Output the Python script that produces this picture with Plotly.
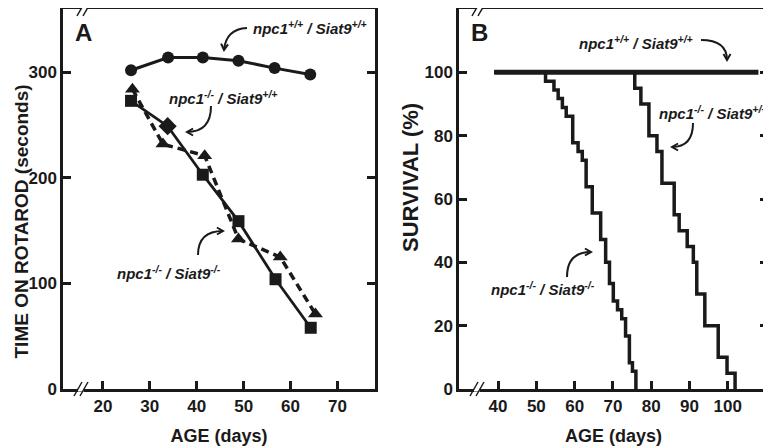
import math
import plotly.graph_objects as go

# ---------------- data ----------------
# Panel A: rotarod
age_wt_rot = [26.0, 33.9, 41.3, 48.9, 56.6, 64.2]
rot_wt = [302, 314, 314, 311, 304, 298]
age_sq_rot = [26.0, 33.8, 41.3, 48.9, 56.8, 64.3]
rot_sq = [273, 249, 203, 159, 104, 58]
sym_sq = ["square", "diamond", "square", "square", "square", "square"]
age_tri_rot = [26.3, 32.8, 41.7, 48.9, 57.8, 65.3]
rot_tri = [284, 232, 221, 142, 125, 71]

# Panel B: survival (Kaplan-Meier steps)
age_wt_surv = [39, 108]
surv_wt = [100, 100]
age_dko = [39, 52.4, 54.6, 55.7, 56.8, 57.8, 59.5, 60.9, 62.0, 63.0, 64.6, 66.8,
           68.1, 69.1, 70.1, 71.2, 72.3, 73.3, 74.3, 75.1, 76.0]
surv_dko = [100, 97.2, 94.4, 91.7, 88.9, 86.1, 77.8, 75.0, 72.2, 63.9, 55.6, 47.2,
            40.0, 33.3, 27.8, 25.0, 22.2, 16.7, 8.3, 5.6, 0]
age_sko = [39, 75.7, 77.3, 79.4, 81.5, 82.8, 86.0, 87.3, 89.4, 91.0, 91.9, 94.0,
           97.5, 99.8, 101.9]
surv_sko = [100, 95, 90, 80, 75, 65, 55, 50, 45, 40, 30, 20, 10, 5, 0]

xticks_a = [20, 30, 40, 50, 60, 70]
yticks_a = [0, 100, 200, 300]
xticks_b = [40, 50, 60, 70, 80, 90, 100]
yticks_b = [0, 20, 40, 60, 80, 100]

# ---------------- layout constants ----------------
OX, OY = 8, 8            # page body margin offset
W, H = 771 - OX, 446 - OY
L, R, T = 63 - OX, 3, 9 - OY
B = H - (389 - OY)
PW, PH = W - L - R, H - T - B
FONT = "Liberation Sans, Arial, sans-serif"
INK = "#1a1a1a"


def px(x, y):
    """reference-page pixel -> paper coords"""
    return (x - OX - L) / PW, (H - B - (y - OY)) / PH


fig = go.Figure()

# Panel A traces
fig.add_trace(go.Scatter(x=age_tri_rot, y=rot_tri, mode="lines+markers",
                         line=dict(color=INK, width=3.5, dash="8px,5px"),
                         marker=dict(symbol="triangle-up", size=13, color=INK, opacity=1),
                         xaxis="x", yaxis="y", showlegend=False))
fig.add_trace(go.Scatter(x=age_sq_rot, y=rot_sq, mode="lines+markers",
                         line=dict(color=INK, width=2.8),
                         marker=dict(symbol=sym_sq, size=[12, 14, 12, 12, 12, 12], color=INK,
                                     opacity=1, line=dict(width=0)),
                         xaxis="x", yaxis="y", showlegend=False))
fig.add_trace(go.Scatter(x=age_wt_rot, y=rot_wt, mode="lines+markers",
                         line=dict(color=INK, width=3),
                         marker=dict(symbol="circle", size=12, color=INK, opacity=1),
                         xaxis="x", yaxis="y", showlegend=False))

# Panel B traces
fig.add_trace(go.Scatter(x=age_dko, y=surv_dko, mode="lines", line_shape="hv",
                         line=dict(color=INK, width=3.5),
                         xaxis="x2", yaxis="y2", showlegend=False))
fig.add_trace(go.Scatter(x=age_sko, y=surv_sko, mode="lines", line_shape="hv",
                         line=dict(color=INK, width=3.5),
                         xaxis="x2", yaxis="y2", showlegend=False))
fig.add_trace(go.Scatter(x=age_wt_surv, y=surv_wt, mode="lines",
                         line=dict(color=INK, width=5),
                         xaxis="x2", yaxis="y2", showlegend=False))

tickfont = dict(family=FONT, size=17, color=INK, weight="bold")
xtitlefont = dict(family=FONT, size=18, color=INK, weight="bold")
common = dict(showgrid=False, zeroline=False, showline=True, linecolor=INK, linewidth=2.5,
              ticks="inside", ticklen=8, tickwidth=2.5, tickcolor=INK, tickfont=tickfont)

dom_a = [0, (375 - OX - L) / PW]
dom_b = [(459 - OX - L) / PW, 1]

fig.update_layout(
    width=W, height=H, margin=dict(l=L, r=R, t=T, b=B, autoexpand=False),
    paper_bgcolor="white", plot_bgcolor="white",
    xaxis=dict(domain=dom_a, range=[11.5, 78], tickvals=xticks_a, mirror=True,
               title=dict(text="AGE (days)", font=xtitlefont, standoff=15), anchor="y", **common),
    yaxis=dict(domain=[0, 1], range=[0, 360], tickvals=yticks_a, mirror="ticks",
               anchor="x", **common),
    xaxis2=dict(domain=dom_b, range=[29.8, 110.5], tickvals=xticks_b, mirror=True,
                title=dict(text="AGE (days)", font=xtitlefont, standoff=15), anchor="y2", **common),
    yaxis2=dict(domain=[0, 1], range=[0, 120], tickvals=yticks_b, mirror="ticks",
                anchor="x2", **common),
)

annots = []
shapes = []


def label(x, y, text, size=15):
    xp, yp = px(x, y)
    annots.append(dict(x=xp, y=yp, xref="paper", yref="paper", text=text, showarrow=False,
                       xanchor="left", yanchor="middle",
                       font=dict(family=FONT, size=size, color=INK, weight="bold", style="italic")))


def ytitle(x, y, text, size):
    xp, yp = px(x, y)
    annots.append(dict(x=xp, y=yp, xref="paper", yref="paper", text=text, showarrow=False,
                       textangle=-90, xanchor="center", yanchor="middle",
                       font=dict(family=FONT, size=size, color=INK, weight="bold")))


def curved_arrow(s, c, e, head=7):
    x0, y0 = px(*s)
    xc, yc = px(*c)
    x1, y1 = px(*e)
    shapes.append(dict(type="path", xref="paper", yref="paper",
                       path=f"M {x0},{y0} Q {xc},{yc} {x1},{y1}",
                       line=dict(color=INK, width=2)))
    dx, dy = e[0] - c[0], e[1] - c[1]
    ang = math.atan2(dy, dx)
    pts = []
    for da in (math.radians(150), -math.radians(150)):
        pts.append(px(e[0] + head * math.cos(ang + da), e[1] + head * math.sin(ang + da)))
    shapes.append(dict(type="path", xref="paper", yref="paper",
                       path=f"M {pts[0][0]},{pts[0][1]} L {x1},{y1} L {pts[1][0]},{pts[1][1]}",
                       line=dict(color=INK, width=2)))


def axis_break(cx, cy):
    gx0, gy = px(cx - 3, cy)
    gx1, _ = px(cx + 3, cy)
    shapes.append(dict(type="line", xref="paper", yref="paper", x0=gx0, x1=gx1, y0=gy, y1=gy,
                       line=dict(color="white", width=5)))
    for off in (-3, 3):
        a = px(cx + off - 4, cy + 7)
        b = px(cx + off + 4, cy - 7)
        shapes.append(dict(type="line", xref="paper", yref="paper", x0=a[0], y0=a[1],
                           x1=b[0], y1=b[1], line=dict(color=INK, width=1.5)))


sup_wt = "npc1<sup>+/+</sup> / Siat9<sup>+/+</sup>"
sup_ko = "npc1<sup>-/-</sup> / Siat9<sup>+/+</sup>"
sup_dko = "npc1<sup>-/-</sup> / Siat9<sup>-/-</sup>"

# axis titles (vertical)
ytitle(20.5, 222, "TIME ON ROTAROD (seconds)", 19)
ytitle(410, 178, "SURVIVAL (%)", 22)

# Panel A labels
label(251, 27, sup_wt)
curved_arrow((247, 28), (226, 29), (224, 50))
label(167, 97, sup_ko)
curved_arrow((211, 106), (211, 132), (187, 132))
label(115, 272, sup_dko)
curved_arrow((198, 255), (198, 231), (223, 231))

# Panel B labels
label(577, 43, sup_wt)
curved_arrow((701, 40), (727, 40), (727, 60))
label(657, 113, sup_ko)
curved_arrow((693, 123), (693, 147), (672, 147))
label(489, 288, sup_dko)
curved_arrow((567, 277), (567, 252), (591, 252))

# panel letters
for (x, y, t) in [(73, 33, "A"), (469, 33, "B")]:
    xp, yp = px(x, y)
    annots.append(dict(x=xp, y=yp, xref="paper", yref="paper", text=t, showarrow=False,
                       xanchor="left", yanchor="middle",
                       font=dict(family=FONT, size=24, color=INK, weight="bold")))

for c in [(81, 389), (84, 9), (477, 389), (479, 9)]:
    axis_break(*c)

fig.update_layout(annotations=annots, shapes=shapes)
fig.write_html("out.html")
